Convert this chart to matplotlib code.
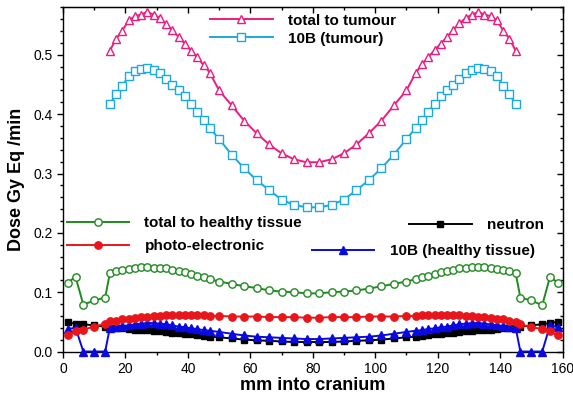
import matplotlib
matplotlib.use("Agg")
import matplotlib.pyplot as plt
from matplotlib.ticker import MultipleLocator

plt.rcParams["font.family"] = ["Liberation Sans", "DejaVu Sans"]

# x grid (mm into cranium)
x_tumour = ([15, 17, 19, 21, 23, 25, 27, 29, 31, 33, 35, 37, 39, 41, 43, 45, 47]
            + [50, 54, 58, 62, 66, 70, 74, 78, 82, 86, 90, 94, 98, 102, 106, 110]
            + [113, 115, 117, 119, 121, 123, 125, 127, 129, 131, 133, 135, 137, 139, 141, 143, 145])
x_healthy = [1.5, 4, 6.5, 10, 13.5] + x_tumour + [146.5, 150, 153.5, 156, 158.5]

total_tumour = [0.507, 0.527, 0.541, 0.558, 0.565, 0.568, 0.572, 0.568, 0.562, 0.552, 0.542, 0.530, 0.519, 0.507, 0.496, 0.483, 0.470,
                0.440, 0.415, 0.389, 0.368, 0.349, 0.334, 0.324, 0.319, 0.319, 0.324, 0.334, 0.349, 0.368, 0.389, 0.415, 0.440,
                0.470, 0.484, 0.496, 0.508, 0.519, 0.530, 0.542, 0.553, 0.562, 0.568, 0.572, 0.568, 0.565, 0.558, 0.541, 0.527, 0.507]
b10_tumour = [0.417, 0.434, 0.448, 0.464, 0.473, 0.476, 0.477, 0.474, 0.469, 0.459, 0.449, 0.440, 0.430, 0.417, 0.404, 0.391, 0.377,
              0.358, 0.332, 0.309, 0.289, 0.272, 0.256, 0.247, 0.243, 0.243, 0.247, 0.256, 0.272, 0.289, 0.309, 0.332, 0.358,
              0.377, 0.391, 0.404, 0.417, 0.430, 0.440, 0.449, 0.459, 0.469, 0.474, 0.477, 0.476, 0.473, 0.464, 0.448, 0.434, 0.417]
total_healthy = [0.116, 0.126, 0.079, 0.086, 0.091,
                 0.132, 0.136, 0.137, 0.139, 0.141, 0.142, 0.142, 0.141, 0.141, 0.140, 0.138, 0.136, 0.134, 0.131, 0.128, 0.125, 0.122,
                 0.118, 0.114, 0.110, 0.107, 0.103, 0.101, 0.100, 0.098, 0.098, 0.100, 0.101, 0.103, 0.106, 0.110, 0.114, 0.118,
                 0.122, 0.125, 0.128, 0.131, 0.134, 0.136, 0.138, 0.140, 0.141, 0.142, 0.142, 0.142, 0.141, 0.139, 0.137, 0.136, 0.132,
                 0.091, 0.086, 0.078, 0.126, 0.116]
photo_electronic = [0.027, 0.035, 0.037, 0.042, 0.047,
                    0.051, 0.052, 0.054, 0.055, 0.056, 0.058, 0.059, 0.060, 0.060, 0.061, 0.061, 0.061, 0.062, 0.061, 0.061, 0.061, 0.060,
                    0.060, 0.059, 0.059, 0.059, 0.058, 0.058, 0.058, 0.057, 0.057, 0.058, 0.058, 0.058, 0.059, 0.059, 0.059, 0.060,
                    0.060, 0.061, 0.061, 0.061, 0.062, 0.061, 0.061, 0.061, 0.060, 0.060, 0.059, 0.058, 0.056, 0.055, 0.054, 0.052, 0.050,
                    0.046, 0.041, 0.038, 0.034, 0.027]
neutron = [0.049, 0.047, 0.046, 0.044, 0.042,
           0.040, 0.040, 0.039, 0.038, 0.037, 0.036, 0.036, 0.035, 0.034, 0.033, 0.032, 0.031, 0.030, 0.029, 0.0275, 0.026, 0.025,
           0.024, 0.022, 0.020, 0.019, 0.018, 0.017, 0.016, 0.016, 0.016, 0.016, 0.017, 0.018, 0.019, 0.020, 0.022, 0.024,
           0.025, 0.026, 0.0275, 0.029, 0.030, 0.031, 0.032, 0.033, 0.034, 0.035, 0.036, 0.036, 0.037, 0.038, 0.039, 0.040, 0.040,
           0.042, 0.044, 0.046, 0.048, 0.050]
b10_healthy = [0.038, 0.040, 0.0, 0.0, 0.0,
               0.040, 0.041, 0.043, 0.044, 0.0456, 0.047, 0.048, 0.048, 0.047, 0.046, 0.044, 0.042, 0.041, 0.039, 0.038, 0.036, 0.035,
               0.033, 0.030, 0.027, 0.025, 0.024, 0.023, 0.022, 0.021, 0.021, 0.022, 0.023, 0.024, 0.025, 0.027, 0.030, 0.033,
               0.035, 0.036, 0.038, 0.039, 0.041, 0.042, 0.044, 0.046, 0.047, 0.048, 0.048, 0.047, 0.0456, 0.044, 0.043, 0.041, 0.040,
               0.0, 0.0, 0.0, 0.044, 0.041]

MAGENTA = "#ec1c7e"; CYAN = "#1aa9e3"; GREEN = "#1f8a1f"; RED = "#e8161b"; BLUE = "#0a0ae0"; BLACK = "#000000"

fig = plt.figure(figsize=(5.73, 3.99), dpi=100)
ax = fig.add_axes([0.110, 0.119, 0.8717, 0.8625])

lw = 1.4
l_neu, = ax.plot(x_healthy, neutron, color=BLACK, lw=lw, marker="s", ms=4.4, clip_on=False, zorder=3)
l_b10h, = ax.plot(x_healthy, b10_healthy, color=BLUE, lw=lw, marker="^", ms=5.3, clip_on=False, zorder=4)
l_pe, = ax.plot(x_healthy, photo_electronic, color=RED, lw=lw, marker="o", ms=5.3, clip_on=False, zorder=5)
l_th, = ax.plot(x_healthy, total_healthy, color=GREEN, lw=lw, marker="o", ms=5.3, mfc="white", mew=1.0, zorder=5)
l_b10t, = ax.plot(x_tumour, b10_tumour, color=CYAN, lw=lw, marker="s", ms=5.3, mfc="white", mew=1.0, zorder=5)
l_tt, = ax.plot(x_tumour, total_tumour, color=MAGENTA, lw=lw, marker="^", ms=5.8, mfc="white", mew=1.0, zorder=6)

ax.set_xlim(0, 160)
ax.set_ylim(0, 0.58)
ax.xaxis.set_major_locator(MultipleLocator(20))
ax.xaxis.set_minor_locator(MultipleLocator(10))
ax.yaxis.set_major_locator(MultipleLocator(0.1))
ax.yaxis.set_minor_locator(MultipleLocator(0.02))
ax.yaxis.set_major_formatter(matplotlib.ticker.FormatStrFormatter("%.1f"))
ax.tick_params(which="both", direction="out", top=False, right=False, labelsize=10, width=1)
ax.tick_params(which="major", length=4)
ax.tick_params(which="minor", length=2.5)
for s in ax.spines.values():
    s.set_linewidth(1.0)

# inward ticks on top / right
ax_top = ax.secondary_xaxis("top")
ax_top.xaxis.set_major_locator(MultipleLocator(20))
ax_top.xaxis.set_minor_locator(MultipleLocator(10))
ax_top.tick_params(which="both", direction="in", labeltop=False, width=1)
ax_top.tick_params(which="major", length=4)
ax_top.tick_params(which="minor", length=2.5)
ax_right = ax.secondary_yaxis("right")
ax_right.yaxis.set_major_locator(MultipleLocator(0.1))
ax_right.yaxis.set_minor_locator(MultipleLocator(0.02))
ax_right.tick_params(which="both", direction="in", labelright=False, width=1)
ax_right.tick_params(which="major", length=4)
ax_right.tick_params(which="minor", length=2.5)

ax.set_xlabel("mm into cranium", fontsize=13, fontweight="bold", labelpad=1)
ax.set_ylabel("Dose Gy Eq /min", fontsize=13, fontweight="bold", labelpad=6)

leg_kw = dict(frameon=False, prop={"weight": "bold", "size": 11}, handlelength=4.1,
              handletextpad=1.0, borderpad=0, borderaxespad=0, loc="center left")
leg1 = ax.legend([l_tt, l_b10t], ["total to tumour", "10B (tumour)"],
                 bbox_to_anchor=(0.294, 0.935), labelspacing=0.25, **leg_kw)
ax.add_artist(leg1)
leg2 = ax.legend([l_th, l_pe], ["total to healthy tissue", "photo-electronic"],
                 bbox_to_anchor=(0.007, 0.339), labelspacing=0.6, **leg_kw)
ax.add_artist(leg2)
leg3 = ax.legend([l_neu], ["neutron"], bbox_to_anchor=(0.693, 0.368), **leg_kw)
ax.add_artist(leg3)
ax.legend([l_b10h], ["10B (healthy tissue)"], bbox_to_anchor=(0.498, 0.292), **leg_kw)

fig.savefig("out.png", dpi=100)
